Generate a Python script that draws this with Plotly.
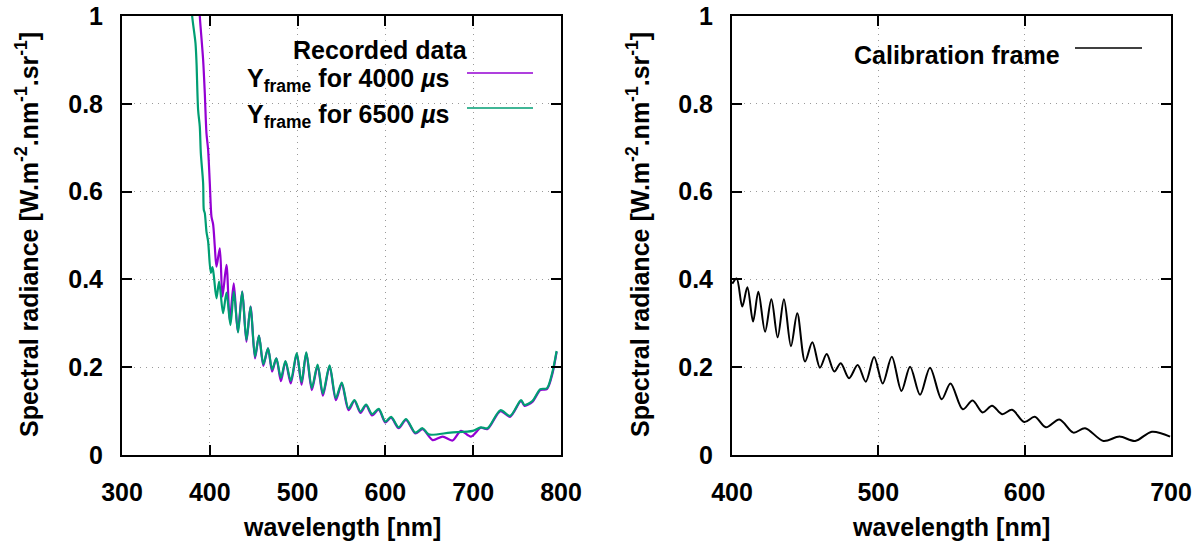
import plotly.graph_objects as go

# ---------------- data ----------------
wl_4000 = [387.5, 388.6, 392.4, 394.3, 396.2, 398.1, 400.0, 401.9, 403.8, 405.7, 407.6, 411.4,
           414.4, 419.0, 422.7, 427.3, 431.8, 437.0, 441.7, 446.4, 451.5, 456.0, 461.0, 466.3,
           471.0, 475.8, 481.0, 486.2, 492.2, 499.0, 504.5, 509.9, 516.2, 522.8, 528.8, 536.4,
           543.6, 550.3, 558.0, 564.8, 571.6, 578.0, 584.9, 592.4, 600.0, 606.5, 615.1, 623.5,
           634.1, 642.4, 653.8, 665.2, 676.5, 686.0, 697.4, 708.7, 716.3, 731.0, 742.0, 754.5,
           758.5, 767.4, 776.5, 784.0, 790.1, 795.0]
rad_4000 = [1.05, 1.0, 0.900, 0.824, 0.733, 0.695, 0.619, 0.543, 0.525, 0.475, 0.429, 0.471,
            0.361, 0.433, 0.306, 0.391, 0.281, 0.372, 0.258, 0.338, 0.220, 0.272, 0.203, 0.243,
            0.190, 0.220, 0.168, 0.213, 0.163, 0.230, 0.160, 0.232, 0.148, 0.203, 0.135, 0.202,
            0.125, 0.162, 0.102, 0.123, 0.096, 0.113, 0.090, 0.103, 0.074, 0.085, 0.061, 0.080,
            0.049, 0.059, 0.034, 0.042, 0.033, 0.055, 0.042, 0.062, 0.059, 0.100, 0.087, 0.123,
            0.112, 0.121, 0.148, 0.150, 0.184, 0.235]

wl_6500 = [378.5, 379.9, 383.7, 384.9, 386.7, 388.6, 389.8, 392.4, 393.2, 394.3, 396.2, 398.1,
           401.1, 403.0, 404.5, 407.6, 410.6, 415.1, 419.0, 423.5, 427.4, 432.2, 436.9, 441.7,
           446.4, 451.5, 456.0, 461.0, 466.3, 471.0, 475.8, 481.0, 486.2, 492.2, 499.0, 504.5,
           509.9, 516.2, 522.8, 528.8, 536.4, 543.6, 550.3, 558.0, 564.8, 571.6, 578.0, 584.9,
           592.4, 600.0, 606.5, 615.1, 623.5, 634.1, 642.4, 649.2, 674.0, 699.5, 708.7, 716.3,
           731.0, 742.0, 754.5, 758.5, 767.4, 776.5, 784.0, 790.1, 795.0]
rad_6500 = [1.05, 1.0, 0.938, 0.892, 0.786, 0.748, 0.687, 0.619, 0.558, 0.551, 0.509, 0.486,
            0.415, 0.428, 0.410, 0.357, 0.395, 0.323, 0.370, 0.296, 0.372, 0.279, 0.372, 0.262,
            0.338, 0.224, 0.272, 0.207, 0.243, 0.195, 0.220, 0.176, 0.214, 0.169, 0.232, 0.166,
            0.234, 0.153, 0.206, 0.140, 0.204, 0.130, 0.165, 0.106, 0.125, 0.099, 0.115, 0.093,
            0.105, 0.076, 0.087, 0.063, 0.082, 0.051, 0.061, 0.047, 0.051, 0.055, 0.063, 0.061,
            0.102, 0.089, 0.125, 0.114, 0.123, 0.150, 0.152, 0.188, 0.237]

wl_cal = [400.2, 403.2, 407.0, 410.5, 414.4, 418.0, 422.6, 426.9, 431.2, 435.5, 440.3, 444.6,
          449.9, 454.9, 460.1, 464.7, 469.9, 474.3, 480.0, 485.9, 491.4, 497.1, 503.0, 509.2,
          515.8, 521.7, 528.5, 535.3, 543.3, 549.3, 557.7, 564.4, 571.3, 577.7, 584.6, 591.4,
          599.7, 606.9, 614.5, 623.7, 633.3, 641.3, 653.8, 664.8, 675.5, 686.9, 699.4]
rad_cal = [0.390, 0.402, 0.338, 0.382, 0.304, 0.372, 0.281, 0.355, 0.268, 0.355, 0.248, 0.323,
           0.213, 0.257, 0.199, 0.230, 0.190, 0.209, 0.175, 0.205, 0.167, 0.223, 0.163, 0.224,
           0.146, 0.201, 0.137, 0.199, 0.127, 0.163, 0.104, 0.124, 0.097, 0.112, 0.093, 0.103,
           0.075, 0.087, 0.063, 0.081, 0.051, 0.061, 0.032, 0.042, 0.032, 0.053, 0.042]

y_ticks = [0, 0.2, 0.4, 0.6, 0.8, 1]
y_tick_text = ["0", "0.2", "0.4", "0.6", "0.8", "1"]
x1_ticks = [300, 400, 500, 600, 700, 800]
x2_ticks = [400, 500, 600, 700]

y_title = "Spectral radiance [W.m<sup>-2</sup>.nm<sup>-1</sup>.sr<sup>-1</sup>]"
x_title = "wavelength [nm]"
legend_title = "Recorded data"
name_4000 = "Y<sub>frame</sub> for 4000 <i>µ</i>s"
name_6500 = "Y<sub>frame</sub> for 6500 <i>µ</i>s"
name_cal = "Calibration frame"

PURPLE = "#9400D3"
GREEN = "#009E73"
FONT = "Liberation Sans"
FS = 25
W, H = 1204, 543

fig = go.Figure()
fig.add_trace(go.Scatter(x=wl_4000, y=rad_4000, mode="lines", line=dict(color=PURPLE, width=2.2, shape="spline", smoothing=0.8),
                         xaxis="x", yaxis="y", showlegend=False))
fig.add_trace(go.Scatter(x=wl_6500, y=rad_6500, mode="lines", line=dict(color=GREEN, width=2.2, shape="spline", smoothing=0.8),
                         xaxis="x", yaxis="y", showlegend=False))
fig.add_trace(go.Scatter(x=wl_cal, y=rad_cal, mode="lines", line=dict(color="black", width=2, shape="spline", smoothing=0.9),
                         xaxis="x2", yaxis="y2", showlegend=False))

def px(x):
    return x / W

def py(y):
    return 1 - y / H

tickfont = dict(family=FONT, size=FS, color="black", weight="bold")
common = dict(showline=True, linecolor="black", linewidth=2, mirror="ticks", ticks="inside", ticklen=10,
              tickwidth=1.5, tickcolor="black", showgrid=True, gridcolor="#9a9a9a", griddash="1px,5px",
              gridwidth=1, zeroline=False, tickfont=tickfont, automargin=False)

fig.update_layout(
    template="none",
    width=W, height=H, margin=dict(l=0, r=0, t=0, b=0, autoexpand=False),
    plot_bgcolor="white", paper_bgcolor="white", showlegend=False,
    xaxis=dict(domain=[px(122), px(561)], range=[300, 800], tickvals=x1_ticks, anchor="y",
               ticklabelstandoff=14, **common),
    yaxis=dict(domain=[py(455), py(16)], range=[0, 1], tickvals=y_ticks, ticktext=y_tick_text, anchor="x",
               ticklabelstandoff=12, **common),
    xaxis2=dict(domain=[px(732), px(1171)], range=[400, 700], tickvals=x2_ticks, anchor="y2",
                ticklabelstandoff=14, **common),
    yaxis2=dict(domain=[py(455), py(16)], range=[0, 1], tickvals=y_ticks, ticktext=y_tick_text, anchor="x2",
                ticklabelstandoff=12, **common),
)

afont = dict(family=FONT, size=FS, color="black", weight="bold")
ann = [
    dict(text=x_title, x=px(341.5), y=py(527), xanchor="center", yanchor="middle"),
    dict(text=x_title, x=px(951.5), y=py(527), xanchor="center", yanchor="middle"),
    dict(text=y_title, x=px(27), y=py(235), xanchor="center", yanchor="middle", textangle=-90),
    dict(text=y_title, x=px(638), y=py(235), xanchor="center", yanchor="middle", textangle=-90),
    dict(text=legend_title, x=px(380), y=py(50), xanchor="center", yanchor="middle"),
    dict(text=name_4000, x=px(451), y=py(80), xanchor="right", yanchor="middle"),
    dict(text=name_6500, x=px(451), y=py(116), xanchor="right", yanchor="middle"),
    dict(text=name_cal, x=px(1062), y=py(55), xanchor="right", yanchor="middle"),
]
for a in ann:
    fig.add_annotation(xref="paper", yref="paper", showarrow=False, font=afont, **a)

for (x0, x1, yy, col) in [(467, 533, 73, PURPLE), (467, 533, 108, GREEN), (1075, 1142, 48, "black")]:
    fig.add_shape(type="line", xref="paper", yref="paper", x0=px(x0), x1=px(x1), y0=py(yy), y1=py(yy),
                  line=dict(color=col, width=1.5))

fig.write_html("out.html", config={"displayModeBar": False},
               post_script="document.body.style.margin='0';")
